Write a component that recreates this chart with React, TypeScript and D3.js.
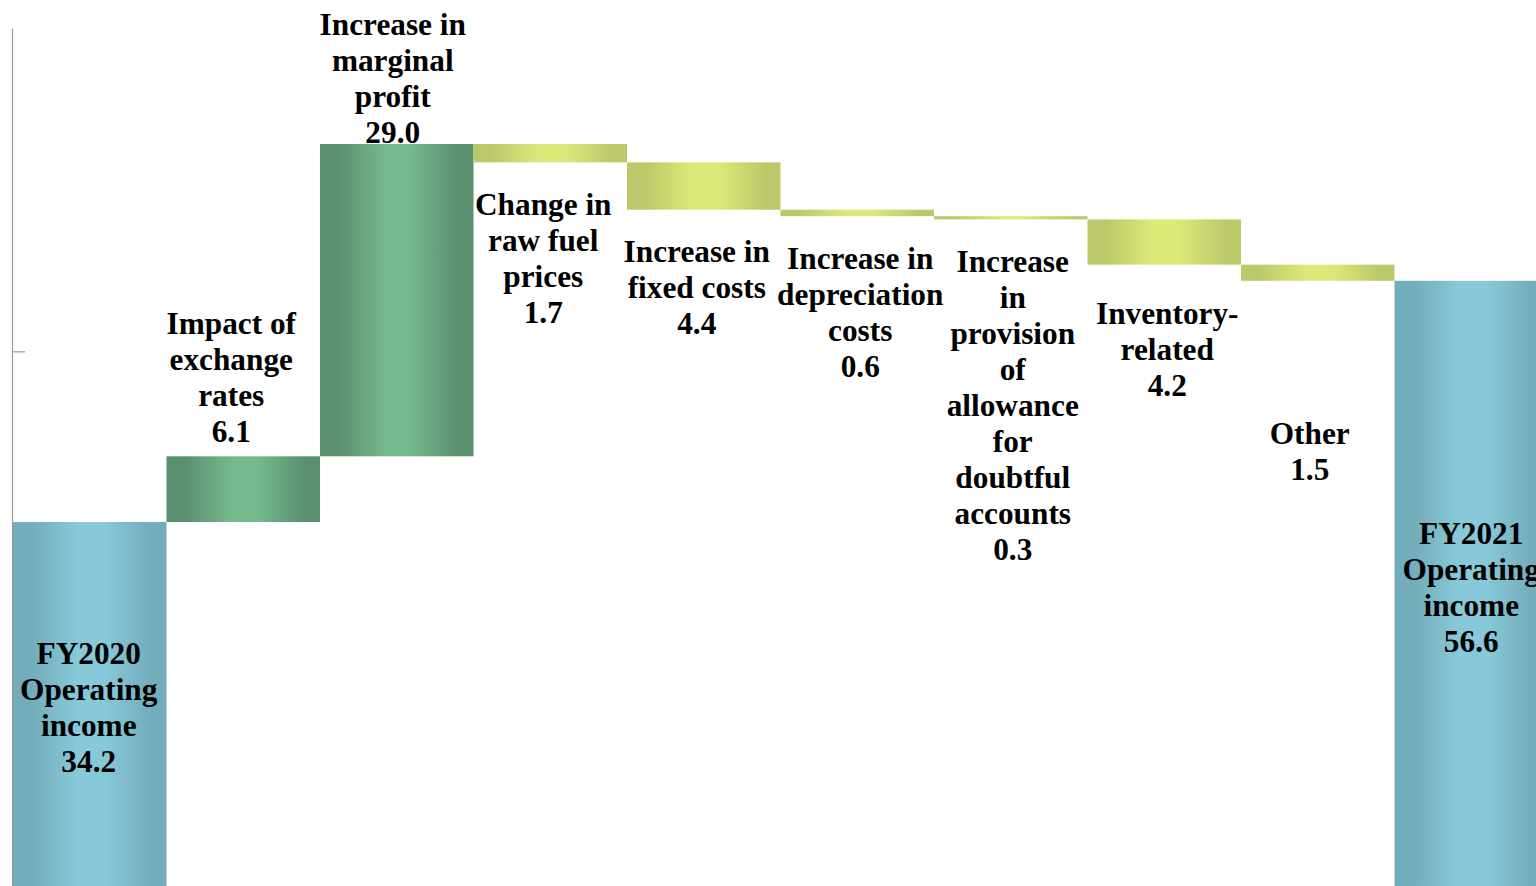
import React from "react";
import * as d3 from "d3";

// Operating income bridge, FY2020 -> FY2021 (billions of yen)
const categories = [
  "FY2020",
  "Exchange",
  "Marginal",
  "RawFuel",
  "FixedCosts",
  "Depreciation",
  "Provision",
  "Inventory",
  "Other",
  "FY2021",
];

const labelLines: string[][] = [
  ["FY2020", "Operating", "income"],
  ["Impact of", "exchange", "rates"],
  ["Increase in", "marginal", "profit"],
  ["Change in", "raw fuel", "prices"],
  ["Increase in", "fixed costs"],
  ["Increase in", "depreciation", "costs"],
  ["Increase", "in", "provision", "of", "allowance", "for", "doubtful", "accounts"],
  ["Inventory-", "related"],
  ["Other"],
  ["FY2021", "Operating", "income"],
];

const values = [34.2, 6.1, 29.0, -1.7, -4.4, -0.6, -0.3, -4.2, -1.5, 56.6];

const kinds = [
  "total",
  "increase",
  "increase",
  "decrease",
  "decrease",
  "decrease",
  "decrease",
  "decrease",
  "decrease",
  "total",
];

const yTicks = [0, 50];

// label nudges (px) for the hand-placed data labels
const labelDx = [-1, -12, -4, -7, -7, 3, 2, 3, -8, 0];
const labelDy = [0, 0, 0, 0, -1, 0, 0, 6, 110, 0];

const W = 1536;
const H = 886;
const FONT = "'Liberation Serif', 'Times New Roman', serif";
const FS = 31.3;
const LH = 36;

const palettes: Record<string, [string, string]> = {
  total: ["#73acba", "#87c9d8"],
  increase: ["#5a8f6e", "#74b88e"],
  decrease: ["#bdc86a", "#dce878"],
};

export default function App() {
  const x = d3.scaleBand<string>().domain(categories).range([13, 1548]).padding(0);
  const y = d3.scaleLinear().domain([0, 80]).range([890.3, 28.8]);

  let running = 0;
  const bars = values.map((v, i) => {
    const kind = kinds[i];
    let start: number;
    let end: number;
    if (kind === "total") {
      start = 0;
      end = v;
    } else {
      start = running;
      end = running + v;
    }
    running = end;
    const top = y(Math.max(start, end));
    const bottom = y(Math.min(start, end));
    return { key: categories[i], kind, v, top, bottom, x0: x(categories[i])!, w: x.bandwidth(), i };
  });

  const labelFor = (b: (typeof bars)[number]) => {
    const lines = [...labelLines[b.i], Math.abs(b.v).toFixed(1)];
    const n = lines.length;
    const cx = b.x0 + b.w / 2 + labelDx[b.i];
    let first: number;
    if (b.kind === "total") {
      const mid = (b.top + b.bottom) / 2;
      first = mid - ((n - 1) * LH) / 2 + 12;
    } else if (b.kind === "increase") {
      first = b.top - 14 - (n - 1) * LH;
      if (first < 35) first = 35;
    } else {
      first = b.bottom + 53;
    }
    first += labelDy[b.i];
    return (
      <text
        key={"lbl-" + b.key}
        x={cx}
        textAnchor="middle"
        fontFamily={FONT}
        fontWeight="bold"
        fontSize={FS}
        fill="#000"
      >
        {lines.map((t, k) => (
          <tspan key={k} x={cx} y={first + k * LH}>
            {t}
          </tspan>
        ))}
      </text>
    );
  };

  return (
    <svg
      width={W}
      height={H}
      style={{ position: "absolute", left: 0, top: 0, display: "block", background: "#fff" }}
    >
      <defs>
        {Object.entries(palettes).map(([k, [dark, light]]) => (
          <linearGradient key={k} id={"grad-" + k} x1="0" x2="1" y1="0" y2="0">
            <stop offset="0" stopColor={dark} />
            <stop offset="0.12" stopColor={dark} />
            <stop offset="0.42" stopColor={light} />
            <stop offset="0.6" stopColor={light} />
            <stop offset="0.9" stopColor={dark} />
            <stop offset="1" stopColor={dark} />
          </linearGradient>
        ))}
      </defs>

      {/* value axis */}
      <line x1={12.5} x2={12.5} y1={y(80)} y2={y(0)} stroke="#9a9a9a" strokeWidth={1.2} />
      {yTicks.map((t) => (
        <line key={t} x1={12.5} x2={25} y1={y(t)} y2={y(t)} stroke="#9a9a9a" strokeWidth={1.2} />
      ))}

      {/* step labels sit beneath the bars */}
      {bars.filter((b) => b.kind !== "total").map(labelFor)}

      {bars.map((b) => (
        <rect
          key={b.key}
          x={b.x0}
          y={b.top}
          width={b.w}
          height={Math.max(1, b.bottom - b.top)}
          fill={`url(#grad-${b.kind})`}
        />
      ))}

      {bars.filter((b) => b.kind === "total").map(labelFor)}
    </svg>
  );
}
